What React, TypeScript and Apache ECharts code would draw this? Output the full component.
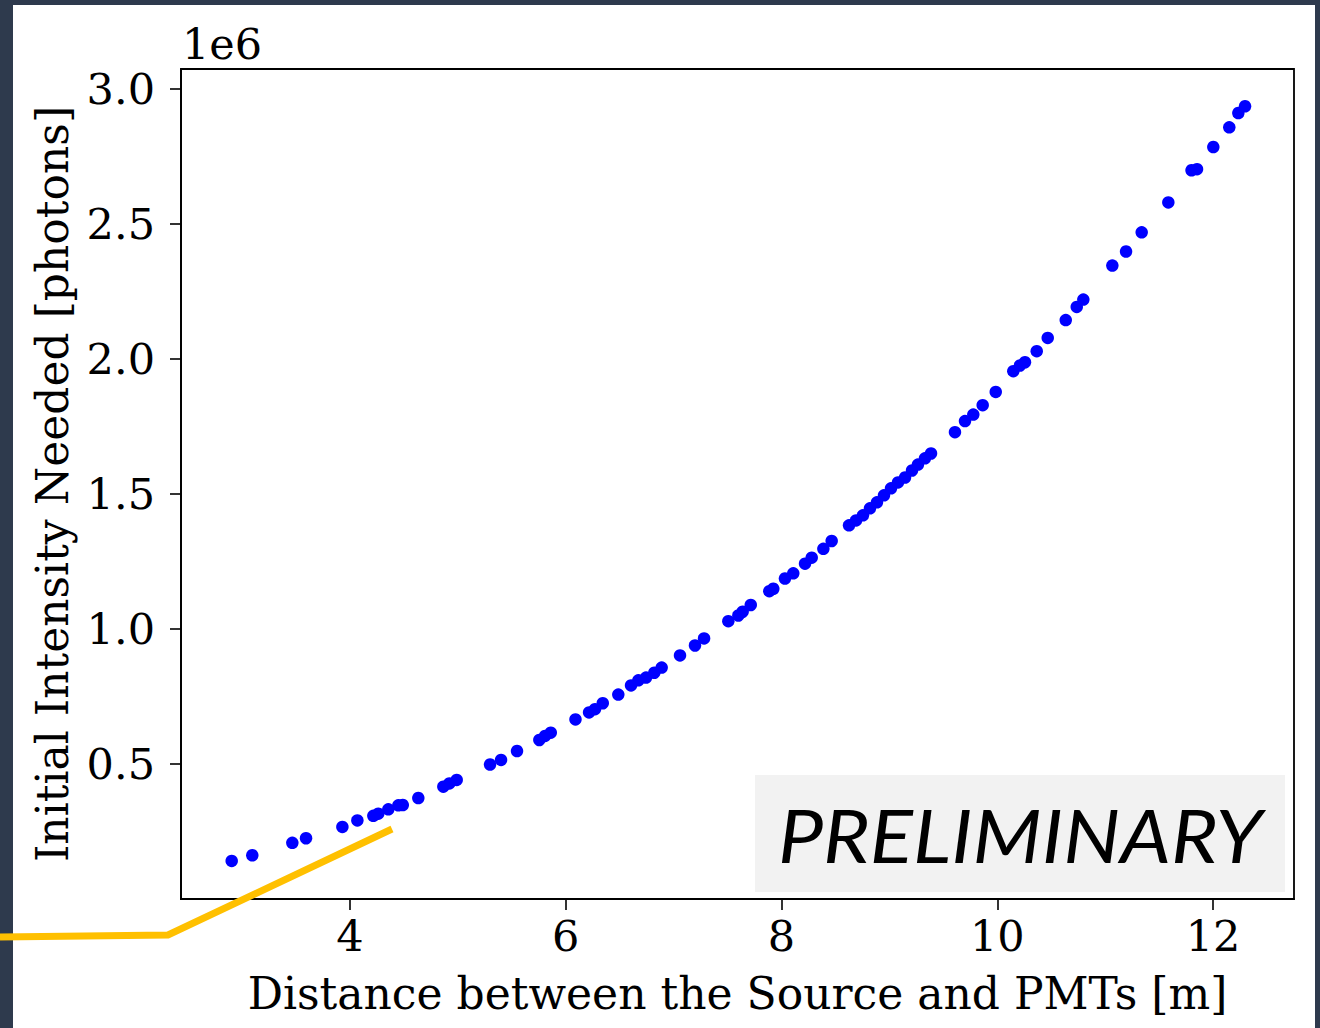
import React, { useEffect, useRef } from "react";
import * as echarts from "echarts";

// Distance between source and PMTs [m]
const distances = [
  2.903, 3.094, 3.465, 3.592, 3.929, 4.068, 4.216, 4.262, 4.355, 4.448, 4.489,
  4.633, 4.865, 4.921, 4.989, 5.298, 5.4, 5.548, 5.755, 5.808, 5.861, 6.09,
  6.216, 6.271, 6.343, 6.487, 6.605, 6.673, 6.744, 6.821, 6.889, 7.059, 7.198,
  7.282, 7.507, 7.6, 7.64, 7.715, 7.887, 7.924, 8.032, 8.109, 8.218, 8.28,
  8.388, 8.465, 8.626, 8.691, 8.755, 8.82, 8.885, 8.95, 9.015, 9.08, 9.145,
  9.21, 9.265, 9.33, 9.386, 9.608, 9.701, 9.778, 9.865, 9.986, 10.149, 10.211,
  10.257, 10.366, 10.468, 10.635, 10.737, 10.798, 11.067, 11.194, 11.339,
  11.586, 11.801, 11.852, 12.003, 12.151, 12.235, 12.297,
];

// Initial intensity needed [photons]
const intensities = [
  141000, 162000, 208000, 225000, 267000, 291000, 308000, 316000, 332000,
  347000, 348000, 374000, 416000, 428000, 441000, 498000, 515000, 548000,
  589000, 604000, 616000, 665000, 691000, 703000, 725000, 757000, 791000,
  810000, 820000, 838000, 857000, 902000, 939000, 965000, 1029000, 1050000,
  1064000, 1089000, 1140000, 1149000, 1187000, 1206000, 1242000, 1264000,
  1297000, 1326000, 1384000, 1402000, 1421000, 1447000, 1469000, 1495000,
  1521000, 1543000, 1561000, 1587000, 1609000, 1632000, 1650000, 1729000,
  1770000, 1794000, 1829000, 1878000, 1955000, 1976000, 1988000, 2029000,
  2078000, 2144000, 2193000, 2220000, 2346000, 2398000, 2469000, 2580000,
  2699000, 2703000, 2785000, 2858000, 2911000, 2936000,
];

const xTicks = [4, 6, 8, 10, 12];
const yTicks = [500000, 1000000, 1500000, 2000000, 2500000, 3000000];
const xAxisTitle = "Distance between the Source and PMTs [m]";
const yAxisTitle = "Initial Intensity Needed [photons]";
const offsetText = "1e6";
const watermark = "PRELIMINARY";

export default function App() {
  const ref = useRef<HTMLDivElement>(null);

  useEffect(() => {
    if (!ref.current) return;
    const chart = echarts.init(ref.current, null, { renderer: "svg" });
    const serif = "'DejaVu Serif', serif";
    const black = "#000000";
    const data = distances.map((d, i) => [d, intensities[i]]);

    chart.setOption({
      animation: false,
      grid: {
        left: 181,
        top: 69,
        width: 1113,
        height: 830,
        show: true,
        borderColor: black,
        borderWidth: 1.8,
        backgroundColor: "transparent",
      },
      xAxis: {
        type: "value",
        min: 2.433,
        max: 12.751,
        splitLine: { show: false },
        axisLine: { show: true, onZero: false, lineStyle: { color: black, width: 1.8 } },
        axisTick: { show: true, length: 11, customValues: xTicks, lineStyle: { color: black, width: 1.6 } },
        axisLabel: {
          customValues: xTicks,
          margin: 15,
          color: black,
          fontFamily: serif,
          fontSize: 43,
          formatter: (v: number) => String(v),
        },
        name: xAxisTitle,
        nameLocation: "middle",
        nameGap: 72,
        nameTextStyle: { color: black, fontFamily: serif, fontSize: 44 },
      },
      yAxis: {
        type: "value",
        min: 0,
        max: 3074000,
        splitLine: { show: false },
        axisLine: { show: true, onZero: false, lineStyle: { color: black, width: 1.8 } },
        axisTick: { show: true, length: 11, customValues: yTicks, lineStyle: { color: black, width: 1.6 } },
        axisLabel: {
          customValues: yTicks,
          margin: 26,
          color: black,
          fontFamily: serif,
          fontSize: 43,
          formatter: (v: number) => (v / 1e6).toFixed(1),
        },
        name: yAxisTitle,
        nameLocation: "middle",
        nameGap: 107,
        nameRotate: 90,
        nameTextStyle: { color: black, fontFamily: serif, fontSize: 44 },
      },
      series: [
        {
          type: "scatter",
          data,
          symbol: "circle",
          symbolSize: 12.5,
          itemStyle: { color: "#0000ff", opacity: 1 },
          z: 3,
        },
      ],
      graphic: [
        {
          type: "text",
          left: 182,
          top: 22,
          style: { text: offsetText, fill: black, font: `43px ${serif}` },
        },
        {
          type: "rect",
          shape: { x: 755, y: 775, width: 530, height: 117 },
          style: { fill: "#f2f2f2" },
          z: 10,
        },
        {
          type: "text",
          x: 1020,
          y: 834,
          scaleX: 1.1,
          style: {
            text: watermark,
            fill: black,
            font: `italic 73px Lato, 'Open Sans', sans-serif`,
            align: "center",
            verticalAlign: "middle",
          },
          z: 11,
        },
        {
          type: "polyline",
          shape: { points: [[0, 937], [168, 935], [392, 829]] },
          style: { stroke: "#ffc000", lineWidth: 7, fill: "none", lineJoin: "miter" },
          z: 100,
        },
      ],
    });

    return () => chart.dispose();
  }, []);

  return (
    <div
      style={{
        position: "absolute",
        left: 0,
        top: 0,
        width: 1320,
        height: 1028,
        background: "#2e3a4d",
        overflow: "hidden",
      }}
    >
      <div
        style={{ position: "absolute", left: 13, top: 5, width: 1302, height: 1023, background: "#ffffff" }}
      />
      <div ref={ref} style={{ position: "absolute", left: 0, top: 0, width: 1320, height: 1028 }} />
    </div>
  );
}
